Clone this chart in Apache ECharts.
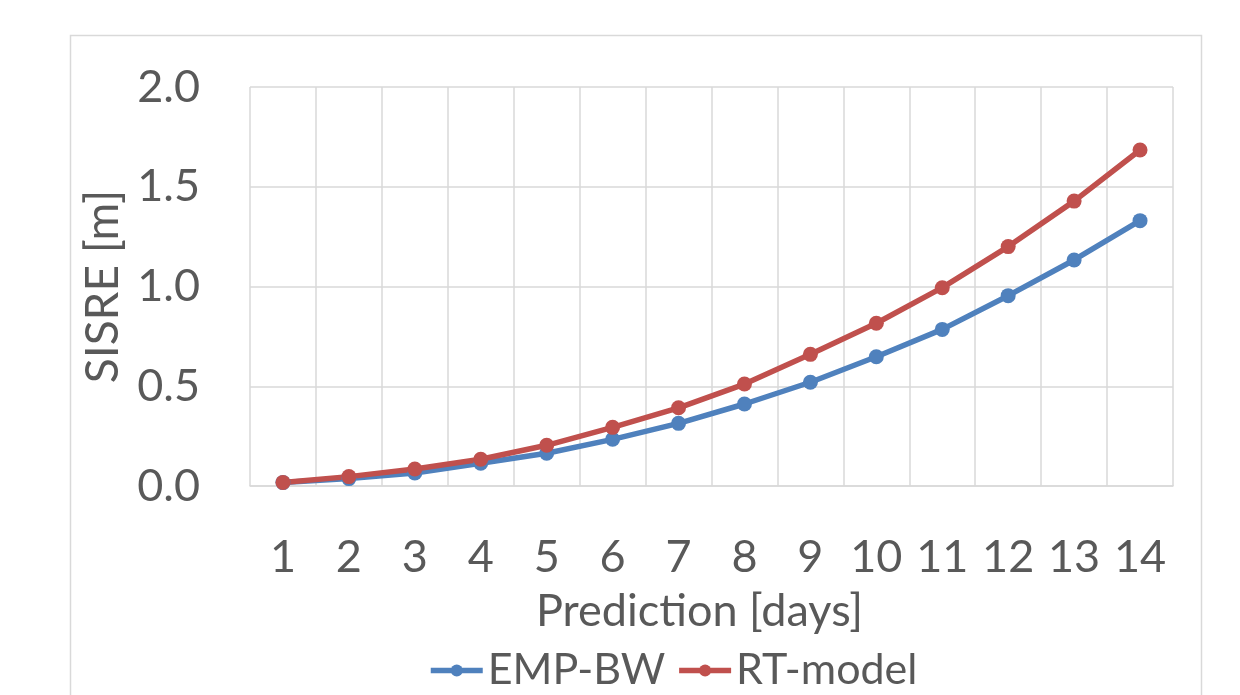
<!DOCTYPE html>
<html>
<head>
<meta charset="utf-8">
<script src="https://cdn.jsdelivr.net/npm/echarts@6/dist/echarts.min.js"></script>
<style>
  html, body { margin: 0; padding: 0; background: #ffffff; }
  #chart { width: 1240px; height: 695px; }
</style>
</head>
<body>
<div id="chart"></div>
<script>
// Prediction horizon in days
const days = ['1', '2', '3', '4', '5', '6', '7', '8', '9', '10', '11', '12', '13', '14'];
// SISRE in metres per prediction day
const empBW = [0.017, 0.037, 0.065, 0.114, 0.164, 0.234, 0.314, 0.411, 0.520, 0.648, 0.785, 0.954, 1.133, 1.330];
const rtModel = [0.018, 0.047, 0.085, 0.134, 0.204, 0.294, 0.392, 0.511, 0.660, 0.816, 0.994, 1.200, 1.428, 1.684];
// Value-axis ticks
const yTicks = [0.0, 0.5, 1.0, 1.5, 2.0];

const FONT = 'Lato, "Open Sans", sans-serif';
const TEXT = '#595959';
const GRID = '#d9d9d9';
const BLUE = '#4f81bd';
const RED = '#c0504d';
const FS = 45;

const chart = echarts.init(document.getElementById('chart'), null, { renderer: 'canvas' });

chart.setOption({
  backgroundColor: '#ffffff',
  animation: false,
  graphic: [{
    type: 'rect',
    shape: { x: 70.5, y: 35.5, width: 1131, height: 700 },
    style: { fill: 'none', stroke: GRID, lineWidth: 1.5 },
    silent: true,
    z: -1
  }],
  grid: { left: 250, top: 87, width: 923, height: 399, containLabel: false },
  legend: {
    left: 423,
    top: 644,
    itemWidth: 52,
    itemHeight: 15,
    itemGap: 11,
    lineStyle: { width: 5.5 },
    textStyle: { fontFamily: FONT, fontSize: 43, color: TEXT },
    data: ['EMP-BW', 'RT-model']
  },
  xAxis: {
    type: 'category',
    data: days,
    boundaryGap: true,
    name: 'Prediction [days]',
    nameLocation: 'middle',
    nameGap: 103,
    nameTextStyle: { fontFamily: FONT, fontSize: FS, color: TEXT, padding: [0, 24, 0, 0] },
    axisLine: { show: true, lineStyle: { color: GRID, width: 1.5 } },
    axisTick: { show: false, interval: 0 },
    axisLabel: { interval: 0, fontFamily: FONT, fontSize: FS, color: TEXT, margin: 49 },
    splitLine: { show: true, interval: 0, lineStyle: { color: GRID, width: 1.5 } }
  },
  yAxis: {
    type: 'value',
    min: yTicks[0],
    max: yTicks[yTicks.length - 1],
    interval: 0.5,
    name: 'SISRE [m]',
    nameLocation: 'middle',
    nameRotate: 90,
    nameGap: 112,
    nameTextStyle: { fontFamily: FONT, fontSize: 46, color: TEXT },
    axisLine: { show: false },
    axisTick: { show: false },
    axisLabel: {
      fontFamily: FONT, fontSize: FS, color: TEXT, margin: 50,
      formatter: v => v.toFixed(1)
    },
    splitLine: { show: true, lineStyle: { color: GRID, width: 1.5 } }
  },
  series: [
    {
      name: 'EMP-BW',
      type: 'line',
      data: empBW,
      color: BLUE,
      symbol: 'circle',
      symbolSize: 15,
      showAllSymbol: true,
      lineStyle: { color: BLUE, width: 5.5 },
      itemStyle: { color: BLUE }
    },
    {
      name: 'RT-model',
      type: 'line',
      data: rtModel,
      color: RED,
      symbol: 'circle',
      symbolSize: 15,
      showAllSymbol: true,
      lineStyle: { color: RED, width: 5.5 },
      itemStyle: { color: RED }
    }
  ]
});
</script>
</body>
</html>
